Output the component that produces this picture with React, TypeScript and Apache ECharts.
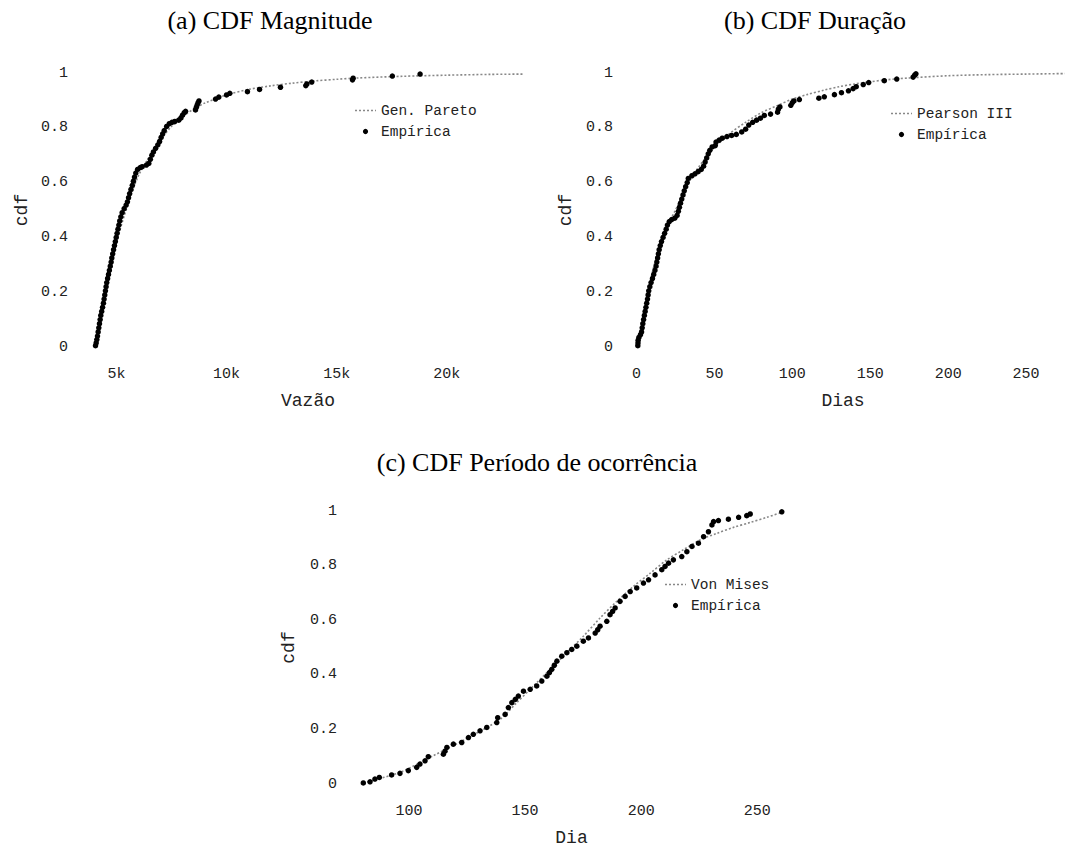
import React, { useEffect, useRef } from "react";
import * as echarts from "echarts";

// ---------- Data ----------
// (a) CDF Magnitude — empirical [vazão, cdf]
const magEmpirica: [number, number][] = [
  [4050, 0.005], [4080, 0.015], [4110, 0.027], [4140, 0.04], [4170, 0.055], [4200, 0.07],
  [4230, 0.085], [4260, 0.1], [4290, 0.115], [4330, 0.13], [4370, 0.145], [4410, 0.16],
  [4440, 0.175], [4470, 0.19], [4500, 0.205], [4530, 0.22], [4560, 0.235], [4600, 0.25],
  [4640, 0.265], [4680, 0.28], [4720, 0.295], [4760, 0.31], [4790, 0.325], [4830, 0.34],
  [4870, 0.355], [4910, 0.37], [4950, 0.385], [4990, 0.4], [5030, 0.415], [5070, 0.43],
  [5110, 0.445], [5150, 0.46], [5200, 0.475], [5260, 0.49], [5350, 0.505], [5440, 0.518],
  [5500, 0.53], [5550, 0.545], [5600, 0.56], [5660, 0.575], [5720, 0.59], [5770, 0.605],
  [5820, 0.62], [5880, 0.635], [5960, 0.648], [6080, 0.655], [6170, 0.658], [6360, 0.664],
  [6470, 0.67], [6540, 0.685], [6610, 0.7], [6680, 0.712], [6780, 0.725], [6880, 0.738],
  [6960, 0.75], [7030, 0.765], [7100, 0.778], [7170, 0.79], [7280, 0.805], [7400, 0.815],
  [7520, 0.82], [7650, 0.823], [7830, 0.828], [7930, 0.836], [8000, 0.846], [8080, 0.855],
  [8140, 0.86], [8590, 0.865], [8630, 0.875], [8670, 0.884], [8710, 0.892], [8750, 0.898],
  [9500, 0.905], [9650, 0.912], [10000, 0.92], [10150, 0.926], [10950, 0.932], [11500, 0.94],
  [12450, 0.948], [13600, 0.954], [13650, 0.96], [13870, 0.967], [15720, 0.975], [15750, 0.981],
  [17530, 0.989], [18790, 0.996],
];
// (a) Gen. Pareto fitted curve
const magParetoCurve: [number, number][] = [
  [4000, 0], [4300, 0.1], [4600, 0.225], [5000, 0.38], [5500, 0.515], [6000, 0.625],
  [6500, 0.695], [7000, 0.755], [7500, 0.805], [8000, 0.84], [8500, 0.868], [9000, 0.89],
  [10000, 0.92], [11000, 0.94], [12000, 0.953], [13000, 0.963], [14000, 0.971],
  [15000, 0.977], [16000, 0.982], [18000, 0.988], [20000, 0.992], [22000, 0.995], [23500, 0.996],
];

// (b) CDF Duração — empirical [dias, cdf]
const durEmpirica: [number, number][] = [
  [0.8, 0.005], [0.9, 0.015], [1.0, 0.025], [1.5, 0.035], [2.5, 0.045], [3.2, 0.055],
  [3.6, 0.07], [4.0, 0.085], [4.5, 0.1], [5.0, 0.115], [5.5, 0.13], [6.0, 0.145],
  [6.5, 0.16], [7.0, 0.175], [7.4, 0.19], [7.8, 0.205], [8.5, 0.22], [9.3, 0.235],
  [10.2, 0.25], [11.0, 0.265], [11.8, 0.28], [12.5, 0.295], [13.0, 0.31], [13.5, 0.325],
  [14.0, 0.34], [14.5, 0.355], [15.2, 0.37], [16.0, 0.385], [17.0, 0.4], [18.0, 0.415],
  [19.0, 0.43], [19.8, 0.445], [21.0, 0.458], [22.5, 0.465], [24.5, 0.47], [26.0, 0.48],
  [26.8, 0.495], [27.5, 0.51], [28.2, 0.525], [29.0, 0.54], [29.8, 0.555], [30.6, 0.57],
  [31.5, 0.585], [32.5, 0.6], [33.2, 0.615], [35.5, 0.625], [37.5, 0.632], [39.5, 0.64],
  [41.5, 0.648], [43.0, 0.66], [44.0, 0.675], [45.0, 0.69], [46.0, 0.705], [47.0, 0.718],
  [48.5, 0.73], [50.5, 0.735], [51.0, 0.748], [53.0, 0.755], [55.0, 0.762], [58.0, 0.768],
  [61.0, 0.772], [64.0, 0.776], [67.5, 0.785], [70.0, 0.795], [72.0, 0.81], [74.5, 0.82],
  [77.0, 0.828], [79.5, 0.835], [82.0, 0.845], [86.0, 0.85], [90.5, 0.857], [91.0, 0.868],
  [92.0, 0.876], [99.0, 0.882], [100.0, 0.892], [101.0, 0.898], [104.5, 0.903], [117.0, 0.908],
  [120.5, 0.913], [127.0, 0.921], [131.5, 0.928], [136.0, 0.935], [139.0, 0.943], [141.0, 0.95],
  [145.5, 0.958], [149.0, 0.965], [159.0, 0.972], [167.0, 0.978], [177.5, 0.985], [178.5, 0.992],
  [179.3, 0.997],
];
// (b) Pearson III fitted curve
const durPearsonCurve: [number, number][] = [
  [0, 0], [2, 0.05], [5, 0.14], [10, 0.27], [15, 0.37], [20, 0.445], [25, 0.5],
  [30, 0.56], [35, 0.615], [40, 0.658], [45, 0.695], [50, 0.728], [60, 0.78], [70, 0.82],
  [80, 0.855], [90, 0.88], [100, 0.905], [110, 0.922], [120, 0.937], [130, 0.95],
  [140, 0.96], [150, 0.968], [160, 0.975], [175, 0.982], [200, 0.99], [225, 0.994],
  [250, 0.996], [275, 0.998],
];

// (c) CDF Período de ocorrência — empirical [dia, cdf]
const perEmpirica: [number, number][] = [
  [80.3, 0.004], [83.2, 0.008], [85.3, 0.018], [87.2, 0.024], [92.5, 0.033], [96.1, 0.039],
  [99.7, 0.049], [103.3, 0.061], [104.7, 0.073], [106.9, 0.085], [108.3, 0.1], [114.8, 0.109],
  [115.5, 0.12], [116.3, 0.134], [119.1, 0.146], [122.7, 0.152], [125.6, 0.17], [127.7, 0.182],
  [130.6, 0.195], [133.5, 0.207], [137.8, 0.225], [138.2, 0.243], [141.4, 0.255], [142.8, 0.28],
  [144.3, 0.298], [145.8, 0.31], [147.1, 0.322], [149.3, 0.34], [152.2, 0.347], [155.0, 0.359],
  [157.2, 0.377], [159.4, 0.395], [160.5, 0.408], [161.5, 0.42], [162.6, 0.435], [163.7, 0.45],
  [165.8, 0.468], [168.0, 0.481], [170.1, 0.493], [172.3, 0.505], [175.1, 0.523], [177.3, 0.535],
  [180.2, 0.553], [181.3, 0.565], [182.3, 0.578], [185.2, 0.596], [186.6, 0.62], [187.7, 0.632],
  [188.8, 0.645], [190.9, 0.669], [193.1, 0.687], [195.3, 0.705], [198.1, 0.718], [201.0, 0.736],
  [203.2, 0.748], [206.0, 0.766], [208.9, 0.785], [210.3, 0.797], [211.8, 0.809], [213.9, 0.821],
  [217.5, 0.833], [219.7, 0.851], [221.9, 0.87], [224.7, 0.882], [226.9, 0.906], [229.0, 0.924],
  [230.5, 0.949], [231.2, 0.961], [233.3, 0.965], [237.6, 0.97], [242.0, 0.977], [245.5, 0.983],
  [247.0, 0.989], [260.6, 0.997],
];
// (c) Von Mises fitted curve
const perVonMisesCurve: [number, number][] = [
  [80.3, 0.004], [96.1, 0.043], [110.5, 0.104], [124.9, 0.167], [139.2, 0.237], [146.4, 0.298],
  [153.6, 0.359], [160.8, 0.42], [168.0, 0.481], [175.1, 0.541], [182.3, 0.608], [189.5, 0.669],
  [196.7, 0.724], [203.9, 0.772], [211.1, 0.821], [218.2, 0.858], [225.4, 0.894], [232.6, 0.918],
  [239.8, 0.94], [247.0, 0.958], [254.2, 0.977], [260.6, 0.995],
];

// Tick labels
const magTicks = [5000, 10000, 15000, 20000];
const durTicks = [0, 50, 100, 150, 200, 250];
const perTicks = [100, 150, 200, 250];

// Legend labels
const legendFits = ["Gen. Pareto", "Pearson III", "Von Mises"];
const legendEmp = "Empírica";

const MONO = '"Liberation Mono", "DejaVu Sans Mono", monospace';
const SERIF = '"Liberation Serif", "Times New Roman", serif';
const TXT = "#222";
const FIT_COLOR = "#888";

function xAxisFor(gridIndex: number, min: number, max: number, ticks: number[], name: string, fmt?: (v: number) => string) {
  return {
    type: "value",
    gridIndex,
    min,
    max,
    name,
    nameLocation: "middle",
    nameGap: 45,
    nameTextStyle: { fontFamily: MONO, fontSize: 18, color: TXT },
    axisLine: { show: false },
    axisTick: { show: false },
    splitLine: { show: false },
    axisLabel: {
      customValues: ticks,
      margin: 20,
      fontFamily: MONO,
      fontSize: 15,
      color: TXT,
      formatter: fmt ? (v: number) => fmt(v) : (v: number) => String(v),
    },
  };
}

function yAxisFor(gridIndex: number, labelMargin: number, nameGap: number) {
  return {
    type: "value",
    gridIndex,
    min: 0,
    max: 1,
    interval: 0.2,
    name: "cdf",
    nameLocation: "middle",
    nameGap,
    nameTextStyle: { fontFamily: MONO, fontSize: 18, color: TXT },
    axisLine: { show: false },
    axisTick: { show: false },
    splitLine: { show: false },
    axisLabel: { margin: labelMargin, fontFamily: MONO, fontSize: 15, color: TXT },
  };
}

function legendGraphic(x: number, y: number, fitName: string) {
  const rowGap = 21;
  const textX = x + 26;
  return [
    {
      type: "line",
      shape: { x1: x, y1: y, x2: x + 21, y2: y },
      style: { stroke: FIT_COLOR, lineWidth: 1.6, lineDash: [2, 2] },
    },
    {
      type: "text",
      x: textX,
      y,
      style: {
        text: fitName,
        font: `14.5px ${MONO}`,
        fill: TXT,
        align: "left",
        verticalAlign: "middle",
        textAlign: "left",
        textVerticalAlign: "middle",
      },
    },
    {
      type: "circle",
      shape: { cx: x + 10.5, cy: y + rowGap, r: 2.6 },
      style: { fill: "#000" },
    },
    {
      type: "text",
      x: textX,
      y: y + rowGap,
      style: {
        text: legendEmp,
        font: `14.5px ${MONO}`,
        fill: TXT,
        align: "left",
        verticalAlign: "middle",
        textAlign: "left",
        textVerticalAlign: "middle",
      },
    },
  ];
}

function fitSeries(name: string, idx: number, data: [number, number][]) {
  return {
    type: "line",
    name,
    xAxisIndex: idx,
    yAxisIndex: idx,
    data,
    smooth: 0.3,
    symbol: "none",
    showSymbol: false,
    clip: false,
    lineStyle: { color: FIT_COLOR, width: 1.6, type: [2, 2] },
    itemStyle: { color: FIT_COLOR },
    z: 1,
  };
}

function empSeries(idx: number, data: [number, number][]) {
  return {
    type: "scatter",
    name: legendEmp,
    xAxisIndex: idx,
    yAxisIndex: idx,
    data,
    symbol: "circle",
    symbolSize: 5.5,
    clip: false,
    itemStyle: { color: "#000", opacity: 1 },
    z: 2,
  };
}

export default function App() {
  const ref = useRef<HTMLDivElement>(null);

  useEffect(() => {
    if (!ref.current) return;
    const chart = echarts.init(ref.current, undefined, { renderer: "svg" });
    const titleStyle = (text: string, x: number, y: number) => ({
      type: "text",
      x,
      y,
      style: {
        text,
        font: `26px ${SERIF}`,
        fill: "#000",
        align: "center",
        verticalAlign: "middle",
        textAlign: "center",
        textVerticalAlign: "middle",
      },
    });
    chart.setOption({
      animation: false,
      backgroundColor: "#fff",
      grid: [
        { left: 90, top: 73, width: 436, height: 274 },
        { left: 621, top: 73, width: 444, height: 274 },
        { left: 351, top: 511, width: 441, height: 274 },
      ],
      xAxis: [
        xAxisFor(0, 3800, 23600, magTicks, "Vazão", (v) => `${v / 1000}k`),
        xAxisFor(1, -10, 275, durTicks, "Dias"),
        xAxisFor(2, 75, 265, perTicks, "Dia"),
      ],
      yAxis: [yAxisFor(0, 22, 59), yAxisFor(1, 8, 46), yAxisFor(2, 14, 53)],
      graphic: [
        titleStyle("(a) CDF Magnitude", 270, 20),
        titleStyle("(b) CDF Duração", 815, 20),
        titleStyle("(c) CDF Período de ocorrência", 537, 462),
        ...legendGraphic(355, 110.5, legendFits[0]),
        ...legendGraphic(891, 113.5, legendFits[1]),
        ...legendGraphic(665, 584.5, legendFits[2]),
      ],
      series: [
        fitSeries(legendFits[0], 0, magParetoCurve),
        empSeries(0, magEmpirica),
        fitSeries(legendFits[1], 1, durPearsonCurve),
        empSeries(1, durEmpirica),
        fitSeries(legendFits[2], 2, perVonMisesCurve),
        empSeries(2, perEmpirica),
      ],
    });
    return () => chart.dispose();
  }, []);

  return (
    <div
      ref={ref}
      style={{ position: "absolute", left: 0, top: 0, width: 1065, height: 848, background: "#fff" }}
    />
  );
}
